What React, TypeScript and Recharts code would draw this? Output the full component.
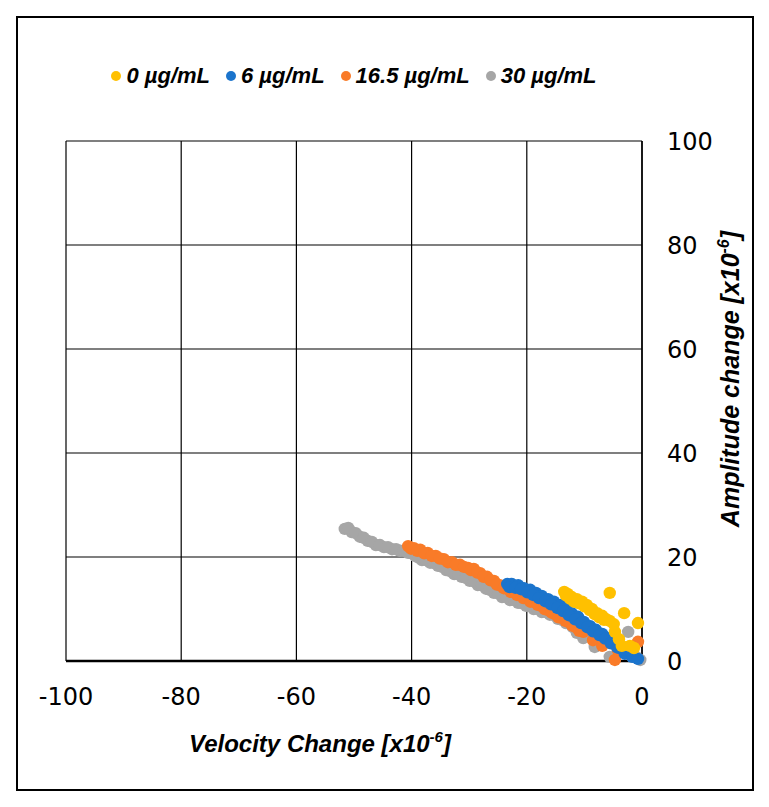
import React from "react";
import {
  ScatterChart,
  Scatter,
  XAxis,
  YAxis,
  CartesianGrid,
} from "recharts";

// values (x10^-6)
const vel0 = [-13.5, -12.9, -12.2, -11.3, -10.4, -9.6, -8.7, -7.8, -6.9, -6.3, -5.6, -4.9, -5.6, -3.1, -0.7, -4.7, -4.0, -3.5, -2.1, -1.4,
  -13.2, -12.5, -11.8, -10.9, -10.0, -9.1, -8.2, -7.4, -6.6];
const amp0 = [13.3, 12.9, 12.3, 11.9, 11.4, 10.8, 10.0, 9.2, 8.7, 8.1, 7.7, 7.1, 13.1, 9.2, 7.3, 5.6, 4.2, 2.9, 2.9, 2.5,
  12.6, 12.0, 11.4, 11.1, 10.5, 9.8, 9.0, 8.4, 7.9];

const vel6 = [-23.4, -22.6, -21.5, -20.5, -19.4, -18.4, -17.4, -16.3, -15.3, -14.2, -13.2, -12.2, -11.1, -10.1, -9.0, -8.0, -6.9, -5.9, -4.9, -3.8, -3.0, -1.7, -0.7,
  -23.0, -22.0, -21.0, -19.9, -18.9, -17.9, -16.8, -15.8, -14.7, -13.7, -12.7, -11.6, -10.6, -9.5, -8.5, -7.4, -6.4, -5.4, -4.3];
const amp6 = [14.8, 14.8, 14.6, 14.0, 13.7, 13.1, 12.5, 11.9, 11.4, 10.8, 10.0, 9.2, 8.5, 7.5, 6.7, 6.0, 5.2, 4.4, 3.5, 2.5, 1.4, 0.8, 0.4,
  14.2, 14.1, 13.8, 13.2, 12.7, 12.1, 11.5, 10.9, 10.2, 9.6, 8.8, 8.0, 7.3, 6.5, 5.7, 5.0, 4.3, 3.4, 2.6];

const vel16 = [-40.6, -39.6, -38.5, -37.2, -35.8, -34.4, -33.0, -31.6, -30.2, -29.2, -28.1, -26.9, -25.7, -24.7, -23.4, -22.2, -21.2, -20.0, -18.8, -17.5, -16.3, -15.1, -13.9, -12.7, -11.5, -10.2, -8.5, -6.9, -4.2, -4.7, -0.7,
  -40.1, -39.0, -37.8, -36.5, -35.1, -33.7, -32.3, -30.9, -29.7, -28.6, -27.5, -26.3, -25.2, -24.0, -22.8, -21.7, -20.6, -19.4, -18.1, -16.9, -15.7, -14.5, -13.3, -12.1, -10.9];
const amp16 = [22.1, 21.7, 21.4, 20.8, 20.2, 19.6, 19.0, 18.5, 17.9, 17.7, 16.9, 16.2, 15.4, 14.6, 13.9, 13.3, 12.7, 12.1, 11.4, 10.6, 9.8, 9.0, 8.3, 7.5, 6.5, 5.6, 4.0, 2.9, 2.1, 0.2, 3.7,
  21.6, 21.2, 20.7, 20.2, 19.7, 19.0, 18.5, 18.1, 17.5, 17.0, 16.2, 15.5, 14.7, 14.0, 13.3, 12.7, 12.1, 11.4, 10.8, 10.0, 9.3, 8.4, 7.7, 6.8, 5.8];

const vel30 = [-51.6, -50.4, -49.0, -47.6, -46.2, -44.8, -43.4, -42.0, -40.6, -39.4, -38.2, -36.8, -35.4, -34.0, -32.6, -31.3, -29.9, -28.5, -27.1, -25.7, -24.3, -22.9, -21.5, -20.1, -18.8, -17.4, -16.0, -14.6, -13.2, -12.0, -11.3, -10.2, -8.2, -5.6, -2.4, -2.1, -1.0, -0.3,
  -51.0, -49.7, -48.3, -46.9, -45.5, -44.1, -42.7, -41.3, -40.0, -38.8, -37.5, -36.1, -34.7, -33.3, -31.9, -30.6, -29.2, -27.8, -26.4, -25.0, -23.6, -22.2, -20.8, -19.4, -18.1, -16.7, -15.3, -13.9, -12.6];
const amp30 = [25.4, 24.8, 23.9, 23.1, 22.3, 21.9, 21.5, 21.2, 20.8, 20.2, 19.4, 18.9, 18.3, 17.5, 16.7, 16.2, 15.4, 14.6, 13.9, 13.1, 12.3, 11.7, 11.2, 10.6, 10.0, 9.4, 8.9, 8.1, 7.3, 6.5, 5.4, 4.4, 2.7, 0.8, 5.6, 1.2, 0.8, 0.2,
  25.6, 24.6, 23.7, 22.9, 22.3, 21.9, 21.5, 21.2, 20.7, 19.9, 19.4, 18.8, 18.1, 17.3, 16.7, 16.0, 15.3, 14.6, 13.7, 13.0, 12.3, 11.7, 11.1, 10.6, 10.0, 9.4, 8.8, 7.9, 7.2];

const xTicks = [-100, -80, -60, -40, -20, 0];
const yTicks = [0, 20, 40, 60, 80, 100];

const series = [
  { name: "0 µg/mL", color: "#FFC000", vel: vel0, amp: amp0 },
  { name: "6 µg/mL", color: "#1B74CC", vel: vel6, amp: amp6 },
  { name: "16.5 µg/mL", color: "#F97B28", vel: vel16, amp: amp16 },
  { name: "30 µg/mL", color: "#A6A6A6", vel: vel30, amp: amp30 },
];

const toPoints = (vel: number[], amp: number[]) =>
  vel.map((v, i) => ({ x: v, y: amp[i] }));

// draw order: gray underneath, yellow on top
const drawOrder = [3, 2, 1, 0];

const tickFont = { fontFamily: "DejaVu Sans", fontSize: 24, fill: "#000" };
const titleFont = "Liberation Sans, Arial, sans-serif";

const Dot = (props: any) => (
  <circle cx={props.cx} cy={props.cy} r={6.2} fill={props.fill} />
);

const XTitle = (props: any) => {
  const { viewBox } = props;
  const x = viewBox.x + viewBox.width / 2 - 34;
  const y = viewBox.y + 91;
  return (
    <text x={x} y={y} textAnchor="middle" fontFamily={titleFont} fontWeight="bold" fontStyle="italic" fontSize={24} fill="#000">
      <tspan>Velocity Change [x10</tspan>
      <tspan dy={-10} fontSize={15}>-6</tspan>
      <tspan dy={10}>]</tspan>
    </text>
  );
};

const YTitle = (props: any) => {
  const { viewBox } = props;
  const x = viewBox.x + 97;
  const y = viewBox.y + viewBox.height / 2 - 22;
  return (
    <text x={x} y={y} textAnchor="middle" transform={`rotate(-90, ${x}, ${y})`} fontFamily={titleFont} fontWeight="bold" fontStyle="italic" fontSize={25} fill="#000">
      <tspan>Amplitude change [x10</tspan>
      <tspan dy={-10} fontSize={16}>-6</tspan>
      <tspan dy={10}>]</tspan>
    </text>
  );
};

export default function App() {
  return (
    <div style={{ position: "absolute", left: 0, top: 0, width: 769, height: 807, background: "#fff" }}>
      <div
        style={{
          position: "absolute",
          left: 16,
          top: 16,
          width: 738,
          height: 775,
          border: "2px solid #000",
          boxSizing: "border-box",
        }}
      />
      <div
        style={{
          position: "absolute",
          left: 66,
          top: 63,
          width: 576,
          display: "flex",
          justifyContent: "center",
          alignItems: "center",
          fontFamily: titleFont,
          fontWeight: "bold",
          fontStyle: "italic",
          fontSize: 22,
          color: "#000",
        }}
      >
        {series.map((s) => (
          <div key={s.name} style={{ display: "flex", alignItems: "center", margin: "0 8px" }}>
            <span style={{ width: 10, height: 10, borderRadius: 5, background: s.color, marginRight: 5 }} />
            <span>{s.name}</span>
          </div>
        ))}
      </div>
      <div style={{ position: "absolute", left: 0, top: 0 }}>
        <ScatterChart width={769} height={807} margin={{ top: 141, left: 66, right: 67, bottom: 106 }}>
          <CartesianGrid stroke="#000" strokeWidth={1.2} horizontalValues={yTicks} verticalValues={xTicks} />
          <XAxis
            type="number"
            dataKey="x"
            domain={[-100, 0]}
            ticks={xTicks}
            height={40}
            tickLine={false}
            tickSize={0}
            tickMargin={27}
            axisLine={{ stroke: "#000", strokeWidth: 2.5 }}
            tick={tickFont}
            label={<XTitle />}
          />
          <YAxis
            type="number"
            dataKey="y"
            orientation="right"
            domain={[0, 100]}
            ticks={yTicks}
            width={60}
            tickLine={false}
            tickSize={0}
            tickMargin={25}
            axisLine={{ stroke: "#000", strokeWidth: 1.5 }}
            tick={tickFont}
            label={<YTitle />}
          />
          {drawOrder.map((i) => (
            <Scatter
              key={series[i].name}
              name={series[i].name}
              data={toPoints(series[i].vel, series[i].amp)}
              fill={series[i].color}
              shape={<Dot />}
              isAnimationActive={false}
            />
          ))}
        </ScatterChart>
      </div>
    </div>
  );
}
